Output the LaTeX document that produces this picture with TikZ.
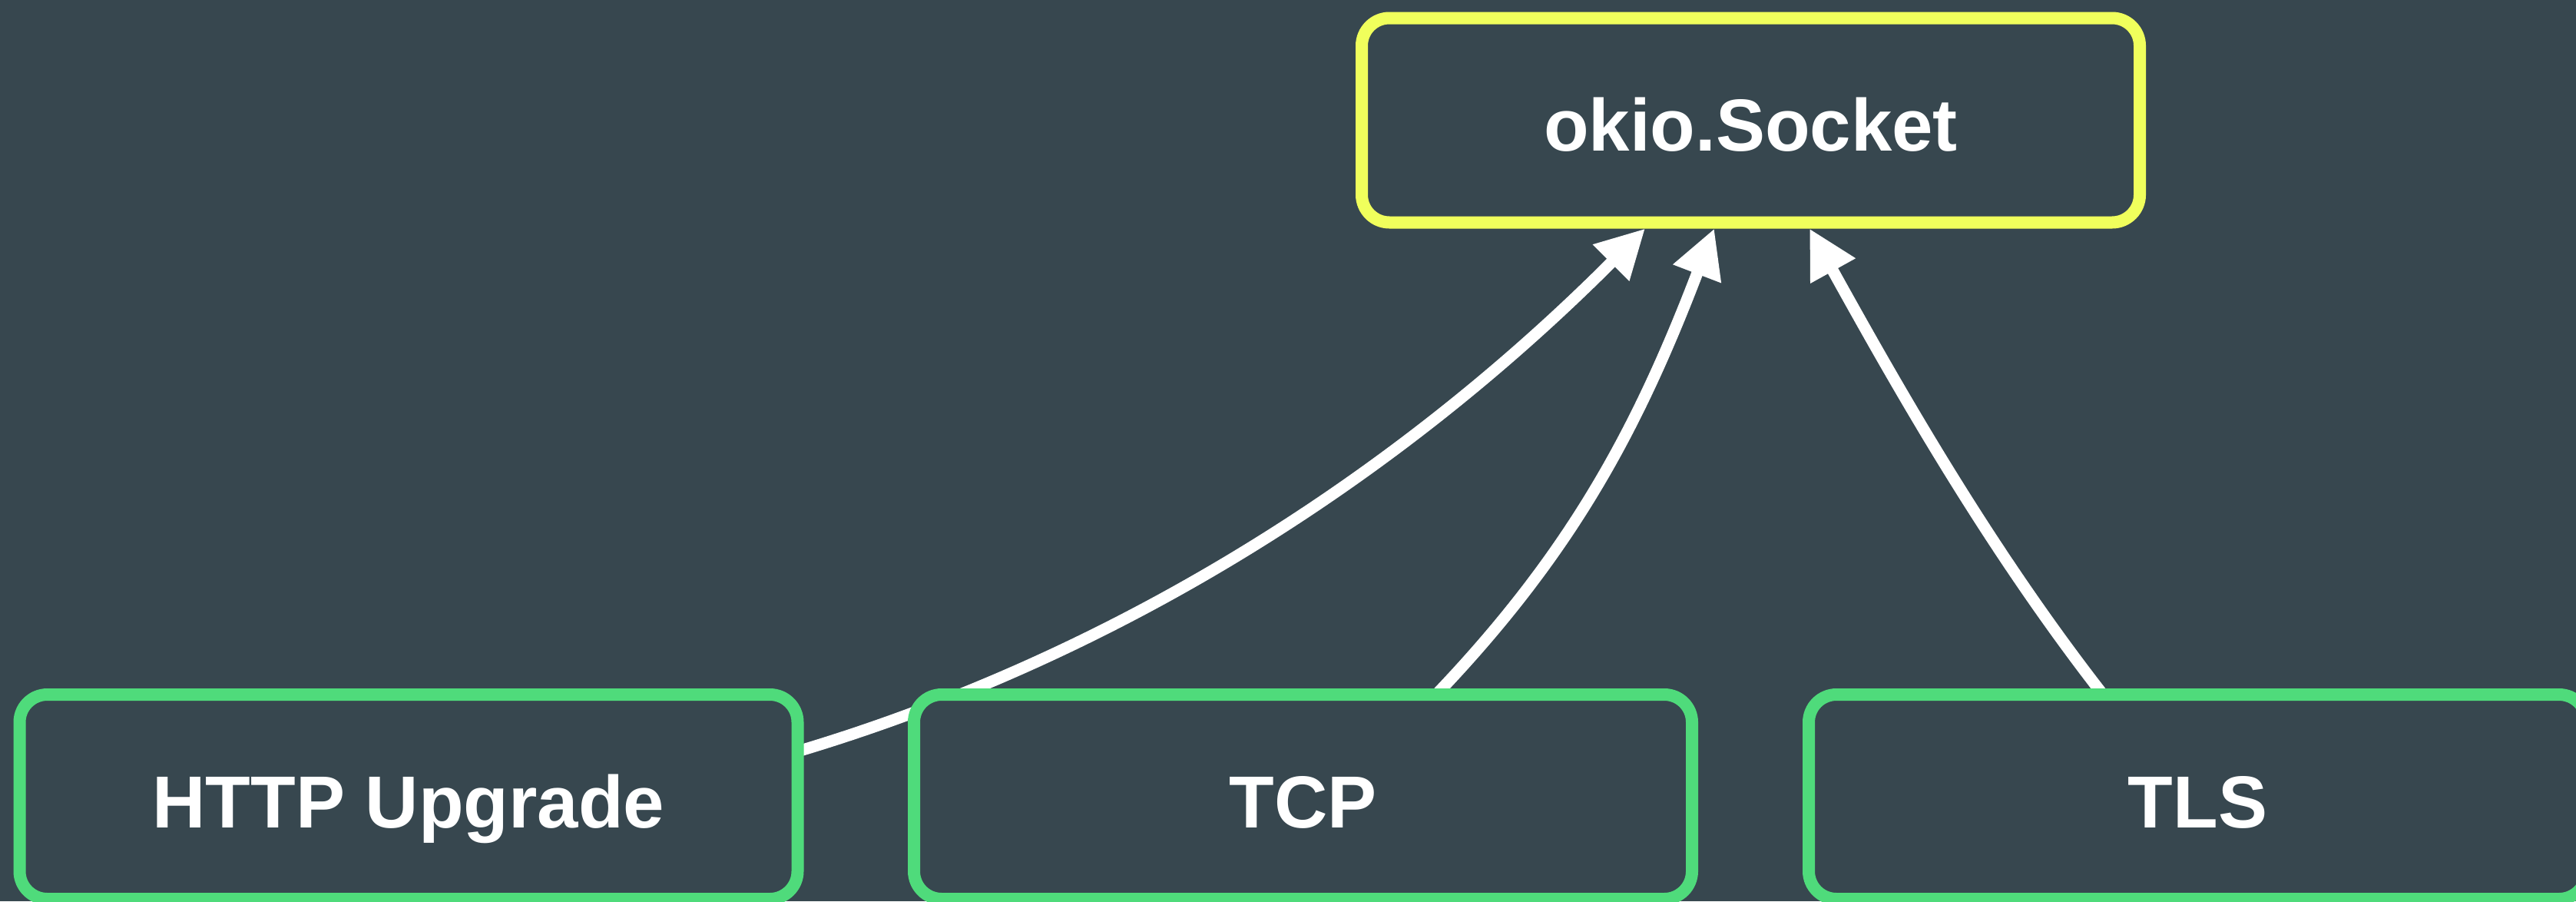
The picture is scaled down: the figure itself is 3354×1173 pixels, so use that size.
\documentclass[tikz,border=0pt]{standalone}
\usepackage{fontspec}
\setmainfont{Liberation Sans}
\usetikzlibrary{arrows.meta,calc}
\pgfdeclarelayer{canvas}
\pgfdeclarelayer{links}
\pgfsetlayers{canvas,links,main}
\definecolor{slate}{HTML}{37474F}
\definecolor{leafgreen}{HTML}{4FDB7B}
\definecolor{lemon}{HTML}{F0FF5C}
\begin{document}
\begin{tikzpicture}[x=0.5pt,y=-0.5pt,
  box/.style={draw, line width=8pt, fill=slate, rounded corners=18pt,
    minimum width=506.5pt, minimum height=133pt, inner sep=0pt, outer sep=0pt,
    text=white, font=\bfseries\fontsize{48}{58}\selectfont,
    text height=40pt, text depth=0pt},
  target/.style={box, draw=lemon},
  source/.style={box, draw=leafgreen},
  conn/.style={draw=white, line width=7.5pt,
    -{Triangle[length=31.5pt, width=31.5pt]}}]

\useasboundingbox (0,0) rectangle (3354,1173);
\begin{pgfonlayer}{canvas}
  \fill[slate] (0,0) rectangle (3354,1173);
\end{pgfonlayer}

% nodes
\node[target] (sock) at (2279.5,156.5) {okio.Socket};
\node[source] (http) at (532,1037) {HTTP Upgrade};
\node[source] (tcp) at (1696.5,1037) {TCP};
\node[source] (tls) at (2861.5,1037) {TLS};

% connectors, kept beneath the boxes
\begin{pgfonlayer}{links}
  \draw[conn] ($(http.east)+(0,-59)$)
    .. controls ($(http.east)+(405,-180)$) and ($(sock.south)+(-470,341)$)
    .. ($(sock.south)+(-137.5,8)$);
  \draw[conn] ($(tcp.north)+(173.5,0)$)
    .. controls ($(tcp.north)+(350,-185)$) and ($(sock.south)+(-147.5,269.5)$)
    .. ($(sock.south)+(-47.5,8)$);
  \draw[conn] ($(tls.north)+(-123.5,0)$)
    .. controls ($(tls.north)+(-274,-193)$) and ($(sock.south)+(190.5,213.5)$)
    .. ($(sock.south)+(76.5,8)$);
\end{pgfonlayer}
\end{tikzpicture}
\end{document}
